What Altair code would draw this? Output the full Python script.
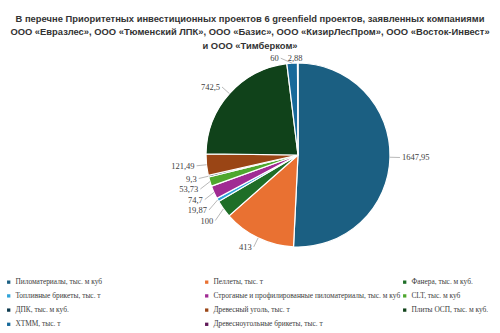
import math
import altair as alt
import pandas as pd

title_lines = [
    "В перечне Приоритетных инвестиционных проектов 6 greenfield проектов, заявленных компаниями",
    "ООО «Евразлес», ООО «Тюменский ЛПК», ООО «Базис», ООО «КизирЛесПром», ООО «Восток-Инвест»",
    "и ООО «Тимберком»",
]
categories = [
    "Пиломатериалы, тыс. м куб",
    "Пеллеты, тыс. т",
    "Фанера, тыс. м куб.",
    "Топливные брикеты, тыс. т",
    "Строганые и профилированные пиломатериалы, тыс. м куб",
    "CLT, тыс. м куб",
    "ДПК, тыс. м куб.",
    "Древесный уголь, тыс. т",
    "Плиты ОСП, тыс. м куб.",
    "ХТММ, тыс. т",
    "Древесноугольные брикеты, тыс. т",
]
values = [1647.95, 413, 100, 19.87, 74.7, 53.73, 9.3, 121.49, 742.5, 60, 2.88]
value_labels = ["1647,95", "413", "100", "19,87", "74,7", "53,73", "9,3", "121,49", "742,5", "60", "2,88"]
colors = ["#1B5F82", "#E97132", "#1E6E27", "#2FA3D8", "#A02B93", "#4EA72E",
          "#0D3A4E", "#9A4515", "#10421A", "#17699A", "#601A58"]

# layout constants (pixels inside the plot group)
W, H, TOP = 500, 283, 50
CX, CY, R = 298, 105, 92
RL = R + 10      # label radius
RT = R + 5       # label radius near the top of the pie
GAP = 10.5

df = pd.DataFrame({"idx": range(len(categories)), "category": categories,
                   "value": values, "label": value_labels})

# label placement derived from the slice angles
total = sum(values)
cum = 0.0
ex, ey, px, py, side = [], [], [], [], []
for v in values:
    a = 2 * math.pi * (cum + v / 2) / total
    cum += v
    s, c = math.sin(a), math.cos(a)
    rl = RT if (abs(s) < 0.1 and c > 0) else RL
    ex.append(CX + R * s)
    ey.append(CY - R * c)
    px.append(CX + rl * s)
    py.append(CY - rl * c)
    side.append("right" if s > 0.02 else ("left" if s < -0.02 else "top"))
df["ex"], df["ey"], df["px"], df["py"], df["side"] = ex, ey, px, py, side

# vertical de-overlap on the left side
left = df[df["side"] == "left"].sort_values("py")
prev = None
for i in left.index:
    if prev is not None and df.at[i, "py"] < prev + GAP:
        df.at[i, "py"] = prev + GAP
    prev = df.at[i, "py"]

# text anchor x
tx = []
for p, s in zip(df["px"], df["side"]):
    tx.append(p - 2 if s == "left" else (p + 2 if s == "right" else p - 10))
df["tx"] = tx
df["anchor"] = df["side"].map({"left": "right", "right": "left", "top": "left"})

# horizontal de-overlap between top labels and left labels at the same height
for t in df.index[df["side"] == "top"]:
    for i in df.index[df["side"] == "left"]:
        if abs(df.at[i, "py"] - df.at[t, "py"]) < GAP and df.at[i, "tx"] > df.at[t, "tx"] - 9:
            df.at[i, "tx"] = df.at[t, "tx"] - 9
            df.at[i, "px"] = df.at[i, "tx"] + 2

color_scale = alt.Scale(domain=categories, range=colors)

pie = alt.Chart(df).mark_arc(outerRadius=R, stroke="white", strokeWidth=1.2).encode(
    theta=alt.Theta("value:Q", stack=True),
    order=alt.Order("idx:Q"),
    color=alt.Color(
        "category:N", scale=color_scale, sort=categories,
        legend=alt.Legend(
            orient="none", legendX=5, legendY=228, columns=3, direction="horizontal",
            gridAlign="all", title=None, symbolType="square", symbolSize=11,
            symbolStrokeWidth=0, labelFont="Liberation Serif", labelFontSize=7.4,
            labelColor="#404040", labelLimit=300, rowPadding=5.2, columnPadding=0,
            labelOffset=3, padding=0,
        ),
    ),
    x=alt.value(CX),
    y=alt.value(CY),
)

lines = alt.Chart(df[df["side"] != "top"]).mark_rule(color="#A6A6A6", strokeWidth=0.8).encode(
    x=alt.X("ex:Q", scale=None, axis=None),
    y=alt.Y("ey:Q", scale=None, axis=None),
    x2="px:Q",
    y2="py:Q",
)

def text_layer(al):
    return alt.Chart(df[df["anchor"] == al]).mark_text(
        align=al, baseline="middle", font="Liberation Serif", fontSize=8.5, color="#404040"
    ).encode(
        x=alt.X("tx:Q", scale=None, axis=None),
        y=alt.Y("py:Q", scale=None, axis=None),
        text="label:N",
    )

chart = alt.layer(pie, lines, text_layer("left"), text_layer("right")).properties(
    width=W, height=H,
    title=alt.TitleParams(
        text=title_lines, anchor="middle", font="Liberation Sans", fontSize=9.4,
        fontWeight="bold", color="#333333", offset=-1, lineHeight=13.5,
    ),
    autosize=alt.AutoSizeParams(type="none"),
    padding={"top": TOP, "left": 0, "right": 0, "bottom": 0},
).configure_view(stroke=None)

chart.save("out.html", embed_options={"renderer": "svg", "actions": False})
